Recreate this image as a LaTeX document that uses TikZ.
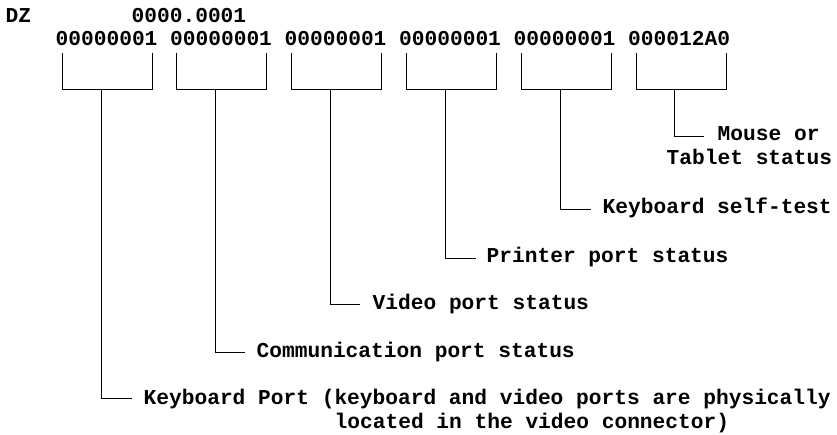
\documentclass[tikz,border=0pt]{standalone}
\usepackage{fontspec}
\setmonofont{Liberation Mono}
\begin{document}
\begin{tikzpicture}[x=1pt,y=-1pt,
  lbl/.style={anchor=base west, inner sep=0pt, font=\fontsize{21.2}{24}\selectfont\ttfamily\bfseries},
  wire/.style={line width=0.8pt, black}]
\useasboundingbox (0,0) rectangle (837,435);
% header
\node[lbl] (dz) at (5.5,23) {DZ};
\node[lbl] (addr) at (131.5,23) {0000.0001};
% groups
\node[lbl] (g1) at (55.5,46) {00000001};
\node[lbl] (g2) at (170,46) {00000001};
\node[lbl] (g3) at (284.5,46) {00000001};
\node[lbl] (g4) at (399,46) {00000001};
\node[lbl] (g5) at (513.5,46) {00000001};
\node[lbl] (g6) at (628,46) {000012A0};
% bracket coordinates
\foreach \k/\l/\r/\m in {1/62/152/101, 2/176/266/215, 3/291/381/330, 4/406/496/445, 5/521/611/560, 6/636/726/674}{
  \coordinate (L\k) at (\l,53);
  \coordinate (R\k) at (\r,53);
  \coordinate (M\k) at (\m,89);
}
% label corners
\coordinate (C1) at (101,398.5); \coordinate (S1) at (132,398.5);
\coordinate (C2) at (215,352);   \coordinate (S2) at (245,352);
\coordinate (C3) at (330,304);   \coordinate (S3) at (360,304);
\coordinate (C4) at (445,258);   \coordinate (S4) at (476,258);
\coordinate (C5) at (560,209);   \coordinate (S5) at (591,209);
\coordinate (C6) at (674,136);   \coordinate (S6) at (704,136);
\foreach \k in {1,...,6}{
  \draw[wire] (L\k) |- (R\k |- M\k) -- (R\k);
  \draw[wire] (M\k) -- (C\k) -- (S\k);
}
% labels
\node[lbl] (t6a) at (717.5,141) {Mouse or};
\node[lbl] (t6b) at (666.5,165) {Tablet status};
\node[lbl] (t5) at (602.5,214) {Keyboard self-test};
\node[lbl] (t4) at (486.5,263) {Printer port status};
\node[lbl] (t3) at (372.5,309) {Video port status};
\node[lbl] (t2) at (256.5,357) {Communication port status};
\node[lbl] (t1a) at (143.5,404) {Keyboard Port (keyboard and video ports are physically};
\node[lbl] (t1b) at (334.5,428) {located in the video connector)};
\end{tikzpicture}
\end{document}
